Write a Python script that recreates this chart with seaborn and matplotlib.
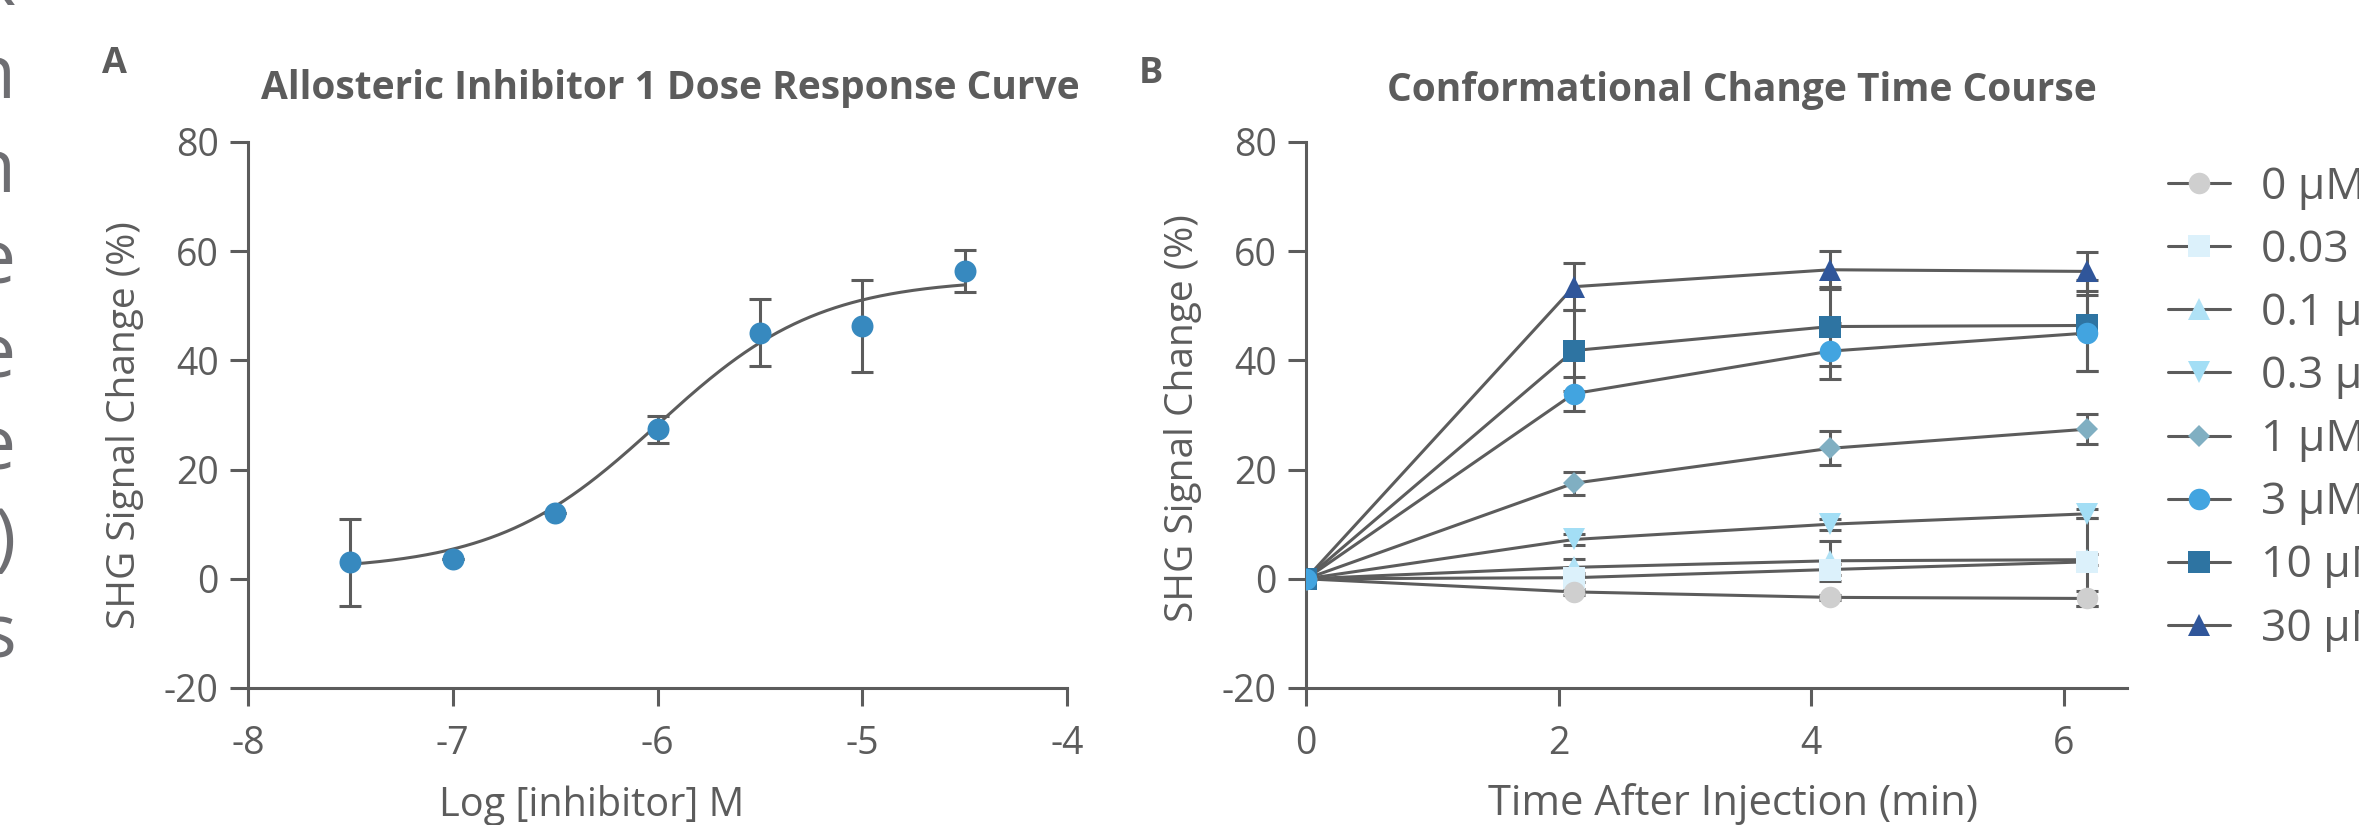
import numpy as np
import pandas as pd
import matplotlib
matplotlib.use("Agg")
import matplotlib.pyplot as plt
import seaborn as sns

# --- panel A : dose response ---
log_conc = [-7.5, -7.0, -6.5, -6.0, -5.5, -5.0, -4.5]
dose_mean = [3.0, 3.6, 12.0, 27.4, 45.1, 46.3, 56.4]
dose_sem = [7.9, 0.0, 0.0, 2.5, 6.2, 8.5, 3.8]

# 4PL fit
fit_bottom = 1.5
fit_top = 55.0
fit_logec50 = -6.0
fit_hill = 1.1

# --- panel B : time course ---
time_min = [0, 2.12, 4.15, 6.18]
conc_labels = ["0 µM", "0.03 µM", "0.1 µM", "0.3 µM", "1 µM", "3 µM", "10 µM", "30 µM"]
sig_0 = [0, -2.4, -3.4, -3.6]
sig_003 = [0, 0.2, 1.7, 3.1]
sig_01 = [0, 2.1, 3.3, 3.5]
sig_03 = [0, 7.2, 10.0, 11.9]
sig_1 = [0, 17.5, 23.9, 27.4]
sig_3 = [0, 33.9, 41.7, 45.0]
sig_10 = [0, 41.8, 46.2, 46.4]
sig_30 = [0, 53.5, 56.6, 56.3]
err_0 = [0, 0.5, 0.5, 1.3]
err_003 = [0, 0.8, 1.0, 8.1]
err_01 = [0, 1.5, 3.7, 1.0]
err_03 = [0, 1.0, 1.0, 0.8]
err_1 = [0, 2.1, 3.1, 2.7]
err_3 = [0, 3.1, 5.1, 6.9]
err_10 = [0, 7.4, 7.2, 8.3]
err_30 = [0, 4.3, 3.5, 3.6]

# cut-off letters on the left edge
edge_letters = ["x", "n", "n", "e", "e", "e", ")", "s"]

signals = [sig_0, sig_003, sig_01, sig_03, sig_1, sig_3, sig_10, sig_30]
errors = [err_0, err_003, err_01, err_03, err_1, err_3, err_10, err_30]
markers = ["o", "s", "^", "v", "D", "o", "s", "^"]
colors = ["#cfcfcf", "#dcf1fb", "#b0e2f6", "#a3def5", "#80afc2", "#42a4e0", "#2e74a2", "#30569a"]
msizes = [15.5, 15.5, 15.5, 15.5, 11, 15.5, 15.5, 15.5]

GREY = "#5c5c5c"
FONT = ["Open Sans", "DejaVu Sans"]

sns.set_style("ticks")
plt.rcParams["font.family"] = FONT
plt.rcParams["axes.unicode_minus"] = False
plt.rcParams["text.color"] = GREY
plt.rcParams["axes.labelcolor"] = GREY
plt.rcParams["xtick.color"] = GREY
plt.rcParams["ytick.color"] = GREY

fig = plt.figure(figsize=(23.59, 8.25), dpi=100)
axA = fig.add_axes([248 / 2359, 1 - 688 / 825, 819 / 2359, 546 / 825])
axB = fig.add_axes([1306 / 2359, 1 - 688 / 825, 821 / 2359, 546 / 825])


def style_axes(ax):
    sns.despine(ax=ax)
    for s in ["left", "bottom"]:
        ax.spines[s].set_color(GREY)
        ax.spines[s].set_linewidth(2.2)
    ax.tick_params(length=13, width=2.2, labelsize=27, colors=GREY)
    ax.tick_params(axis="x", pad=14)
    ax.tick_params(axis="y", pad=8)
    ax.set_ylim(-20, 80)
    ax.set_yticks([-20, 0, 20, 40, 60, 80])


# ---- A ----
curve_x = np.linspace(log_conc[0], log_conc[-1], 300)
curve_y = fit_bottom + (fit_top - fit_bottom) / (1 + 10 ** ((fit_logec50 - curve_x) * fit_hill))
sns.lineplot(x=curve_x, y=curve_y, ax=axA, color=GREY, linewidth=2.2, errorbar=None)
axA.errorbar(log_conc, dose_mean, yerr=dose_sem, fmt="none", ecolor=GREY,
             elinewidth=2.2, capsize=8, capthick=2.2, zorder=3)
sns.scatterplot(x=log_conc, y=dose_mean, ax=axA, s=250, color="#3789bf", linewidth=0, zorder=4)
style_axes(axA)
axA.set_xlim(-8, -4)
axA.set_xticks([-8, -7, -6, -5, -4])
axA.set_xlabel("Log [inhibitor] M", fontsize=28.5)
axA.set_ylabel("SHG Signal Change (%)", fontsize=28)

# ---- B ----
for i in reversed(range(len(conc_labels))):
    axB.errorbar(time_min, signals[i], yerr=errors[i], fmt="none", ecolor=GREY,
                 elinewidth=2.2, capsize=8, capthick=2.2, zorder=2)
    sns.lineplot(x=time_min, y=signals[i], ax=axB, color=GREY, linewidth=2.2,
                 marker=markers[i], markersize=msizes[i], markerfacecolor=colors[i],
                 markeredgewidth=0, label=conc_labels[i], errorbar=None, zorder=3)
# origin markers: 10 µM square with 3 µM circle on top
for i in [6, 5]:
    axB.plot(time_min[0], signals[i][0], marker=markers[i], markersize=msizes[i],
             color=colors[i], markeredgewidth=0, linestyle="none", zorder=5)
style_axes(axB)
axB.set_xlim(0, 6.5)
axB.set_xticks([0, 2, 4, 6])
axB.set_xlabel("Time After Injection (min)", fontsize=30)
axB.set_ylabel("SHG Signal Change (%)", fontsize=28)

handles, labels = axB.get_legend_handles_labels()
order = [labels.index(l) for l in conc_labels]
axB.get_legend().remove()
fig.legend([handles[k] for k in order], conc_labels, loc="upper left",
           bbox_to_anchor=(2168 / 2359, 1 - 165 / 825), bbox_transform=fig.transFigure,
           frameon=False, fontsize=32, handlelength=1.4, handletextpad=0.7,
           labelspacing=0.42, borderpad=0, borderaxespad=0, labelcolor=GREY)

# label placement
for ax, lx, ly, yx, yy in [(axA, 592, 806, 125, 425), (axB, 1733, 804, 1183, 418)]:
    x0, x1 = ax.get_position().x0 * 2359, ax.get_position().x1 * 2359
    ax.xaxis.label.set_va("center")
    ax.xaxis.set_label_coords((lx - x0) / (x1 - x0), (688 - ly) / 546)
    ax.yaxis.label.set_va("center")
    ax.yaxis.set_label_coords((yx - x0) / (x1 - x0), (688 - yy) / 546)

fig.text(670 / 2359, 1 - 88 / 825, "Allosteric Inhibitor 1 Dose Response Curve",
         fontsize=28, fontweight="bold", ha="center", va="center")
fig.text(1742 / 2359, 1 - 91 / 825, "Conformational Change Time Course",
         fontsize=28, fontweight="bold", ha="center", va="center")
fig.text(114 / 2359, 1 - 64 / 825, "A", fontsize=26, fontweight="bold", ha="center", va="center")
fig.text(1151 / 2359, 1 - 74 / 825, "B", fontsize=26, fontweight="bold", ha="center", va="center")

edge_base = [5, 98, 192, 283, 377, 470, 562, 657]
for ch, yb in zip(edge_letters, edge_base):
    fig.text(16 / 2359, 1 - yb / 825, ch, fontsize=54, color="#6e6e72",
             ha="right", va="baseline")

fig.savefig("out.png", dpi=100)
